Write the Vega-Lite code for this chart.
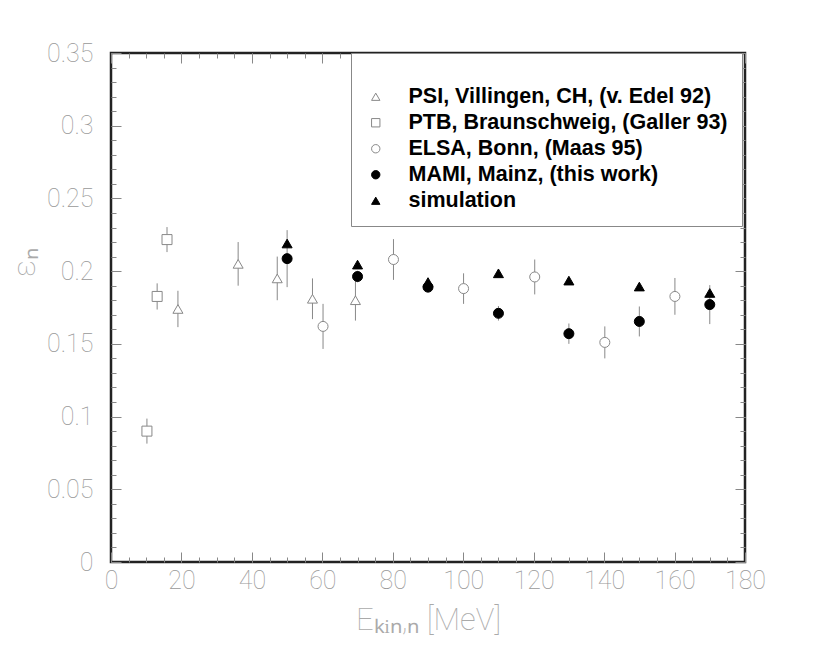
{
  "$schema": "https://vega.github.io/schema/vega-lite/v6.json",
  "width": 634,
  "height": 509,
  "autosize": "none",
  "padding": {"left": 111, "top": 53, "right": 85, "bottom": 87},
  "background": "white",
  "config": {
    "view": {"stroke": "#222", "strokeWidth": 2.5},
    "axis": {
      "grid": false,
      "domain": false,
      "tickColor": "#888",
      "tickWidth": 1,
      "labelFont": "Roboto",
      "labelFontWeight": 100,
      "labelFontSize": 25,
      "labelColor": "#999",
      "labelFlush": false,
      "labelOverlap": false,
      "titleFont": "Roboto",
      "titleFontWeight": 100,
      "titleFontSize": 31,
      "titleColor": "#aaa"
    }
  },
  "data": {
    "values": [
      {"E": 19.0, "eps": 0.174, "lo": 0.1615, "hi": 0.1865, "series": "PSI, Villingen, CH, (v. Edel 92)"},
      {"E": 36.1, "eps": 0.205, "lo": 0.190, "hi": 0.220, "series": "PSI, Villingen, CH, (v. Edel 92)"},
      {"E": 47.2, "eps": 0.195, "lo": 0.180, "hi": 0.210, "series": "PSI, Villingen, CH, (v. Edel 92)"},
      {"E": 57.2, "eps": 0.181, "lo": 0.167, "hi": 0.195, "series": "PSI, Villingen, CH, (v. Edel 92)"},
      {"E": 69.4, "eps": 0.180, "lo": 0.166, "hi": 0.194, "series": "PSI, Villingen, CH, (v. Edel 92)"},
      {"E": 10.2, "eps": 0.090, "lo": 0.0814, "hi": 0.0986, "series": "PTB, Braunschweig, (Galler 93)"},
      {"E": 13.1, "eps": 0.1826, "lo": 0.1736, "hi": 0.1916, "series": "PTB, Braunschweig, (Galler 93)"},
      {"E": 15.9, "eps": 0.2217, "lo": 0.2131, "hi": 0.2303, "series": "PTB, Braunschweig, (Galler 93)"},
      {"E": 60.2, "eps": 0.162, "lo": 0.1465, "hi": 0.1775, "series": "ELSA, Bonn, (Maas 95)"},
      {"E": 80.2, "eps": 0.208, "lo": 0.194, "hi": 0.222, "series": "ELSA, Bonn, (Maas 95)"},
      {"E": 100.1, "eps": 0.188, "lo": 0.1775, "hi": 0.1985, "series": "ELSA, Bonn, (Maas 95)"},
      {"E": 120.3, "eps": 0.196, "lo": 0.184, "hi": 0.208, "series": "ELSA, Bonn, (Maas 95)"},
      {"E": 140.2, "eps": 0.151, "lo": 0.140, "hi": 0.162, "series": "ELSA, Bonn, (Maas 95)"},
      {"E": 160.1, "eps": 0.1826, "lo": 0.170, "hi": 0.1953, "series": "ELSA, Bonn, (Maas 95)"},
      {"E": 50, "eps": 0.2086, "lo": 0.189, "hi": 0.2282, "series": "MAMI, Mainz, (this work)"},
      {"E": 70, "eps": 0.1963, "lo": 0.1923, "hi": 0.2003, "series": "MAMI, Mainz, (this work)"},
      {"E": 90, "eps": 0.189, "lo": 0.186, "hi": 0.192, "series": "MAMI, Mainz, (this work)"},
      {"E": 110, "eps": 0.171, "lo": 0.166, "hi": 0.176, "series": "MAMI, Mainz, (this work)"},
      {"E": 130, "eps": 0.157, "lo": 0.150, "hi": 0.164, "series": "MAMI, Mainz, (this work)"},
      {"E": 150, "eps": 0.1654, "lo": 0.1551, "hi": 0.1757, "series": "MAMI, Mainz, (this work)"},
      {"E": 170, "eps": 0.177, "lo": 0.1636, "hi": 0.1904, "series": "MAMI, Mainz, (this work)"},
      {"E": 50, "eps": 0.219, "series": "simulation"},
      {"E": 70, "eps": 0.2045, "series": "simulation"},
      {"E": 90, "eps": 0.1925, "series": "simulation"},
      {"E": 110, "eps": 0.1985, "series": "simulation"},
      {"E": 130, "eps": 0.1935, "series": "simulation"},
      {"E": 150, "eps": 0.1894, "series": "simulation"},
      {"E": 170, "eps": 0.185, "series": "simulation"}
    ]
  },
  "resolve": {"axis": {"x": "independent", "y": "independent"}},
  "layer": [
    {
      "mark": {"type": "rule", "color": "#888", "strokeWidth": 1},
      "encoding": {
        "x": {
          "field": "E", "type": "quantitative",
          "scale": {"domain": [0, 180], "nice": false, "zero": false},
          "axis": {
            "orient": "bottom",
            "values": [0, 20, 40, 60, 80, 100, 120, 140, 160, 180],
            "tickSize": -10,
            "labelPadding": 16,
            "title": "Eₖᵢₙ,ₙ [MeV]",
            "titlePadding": 12
          }
        },
        "y": {
          "field": "lo", "type": "quantitative",
          "scale": {"domain": [0, 0.35], "nice": false, "zero": false},
          "axis": {
            "orient": "left",
            "values": [0, 0.05, 0.1, 0.15, 0.2, 0.25, 0.3, 0.35],
            "format": "~g",
            "tickSize": -10,
            "labelPadding": 28,
            "title": "εₙ",
            "titleX": -70,
            "titleY": 209
          }
        },
        "y2": {"field": "hi"}
      }
    },
    {
      "mark": {"type": "point", "filled": true, "size": 100, "opacity": 1, "strokeWidth": 1},
      "encoding": {
        "x": {
          "field": "E", "type": "quantitative",
          "scale": {"domain": [0, 180], "nice": false, "zero": false},
          "axis": {
            "orient": "bottom",
            "values": [0, 5, 10, 15, 20, 25, 30, 35, 40, 45, 50, 55, 60, 65, 70, 75, 80, 85, 90, 95, 100, 105, 110, 115, 120, 125, 130, 135, 140, 145, 150, 155, 160, 165, 170, 175, 180],
            "tickSize": -5,
            "labels": false,
            "title": null
          }
        },
        "y": {
          "field": "eps", "type": "quantitative",
          "scale": {"domain": [0, 0.35], "nice": false, "zero": false},
          "axis": {
            "orient": "left",
            "values": [0, 0.01, 0.02, 0.03, 0.04, 0.05, 0.06, 0.07, 0.08, 0.09, 0.1, 0.11, 0.12, 0.13, 0.14, 0.15, 0.16, 0.17, 0.18, 0.19, 0.2, 0.21, 0.22, 0.23, 0.24, 0.25, 0.26, 0.27, 0.28, 0.29, 0.3, 0.31, 0.32, 0.33, 0.34, 0.35],
            "tickSize": -5,
            "labels": false,
            "title": null
          }
        },
        "shape": {
          "field": "series", "type": "nominal",
          "scale": {
            "domain": ["PSI, Villingen, CH, (v. Edel 92)", "PTB, Braunschweig, (Galler 93)", "ELSA, Bonn, (Maas 95)", "MAMI, Mainz, (this work)", "simulation"],
            "range": ["triangle-up", "square", "circle", "circle", "triangle-up"]
          },
          "legend": {
            "orient": "none",
            "legendX": 240,
            "legendY": 0,
            "title": " ",
            "titleFontSize": 10,
            "titlePadding": 9,
            "padding": 14,
            "strokeColor": "#888",
            "fillColor": "white",
            "labelFont": "Liberation Sans",
            "labelFontWeight": "bold",
            "labelFontSize": 21.5,
            "labelColor": "black",
            "labelLimit": 400,
            "symbolSize": 70,
            "symbolStrokeWidth": 1,
            "labelOffset": 22,
            "rowPadding": 3
          }
        },
        "fill": {
          "field": "series", "type": "nominal",
          "scale": {
            "domain": ["PSI, Villingen, CH, (v. Edel 92)", "PTB, Braunschweig, (Galler 93)", "ELSA, Bonn, (Maas 95)", "MAMI, Mainz, (this work)", "simulation"],
            "range": ["white", "white", "white", "black", "black"]
          }
        },
        "stroke": {
          "field": "series", "type": "nominal",
          "scale": {
            "domain": ["PSI, Villingen, CH, (v. Edel 92)", "PTB, Braunschweig, (Galler 93)", "ELSA, Bonn, (Maas 95)", "MAMI, Mainz, (this work)", "simulation"],
            "range": ["#888", "#888", "#888", "black", "black"]
          }
        }
      }
    },
    {
      "mark": {"type": "point", "opacity": 0},
      "encoding": {
        "x": {
          "field": "E", "type": "quantitative",
          "scale": {"domain": [0, 180], "nice": false, "zero": false},
          "axis": {
            "orient": "top",
            "values": [0, 20, 40, 60, 80, 100, 120, 140, 160, 180],
            "tickSize": -10,
            "labels": false,
            "title": null
          }
        },
        "y": {
          "field": "eps", "type": "quantitative",
          "scale": {"domain": [0, 0.35], "nice": false, "zero": false},
          "axis": {
            "orient": "right",
            "values": [0, 0.05, 0.1, 0.15, 0.2, 0.25, 0.3, 0.35],
            "tickSize": -10,
            "labels": false,
            "title": null
          }
        }
      }
    },
    {
      "mark": {"type": "point", "opacity": 0},
      "encoding": {
        "x": {
          "field": "E", "type": "quantitative",
          "scale": {"domain": [0, 180], "nice": false, "zero": false},
          "axis": {
            "orient": "top",
            "values": [0, 5, 10, 15, 20, 25, 30, 35, 40, 45, 50, 55, 60, 65, 70, 75, 80, 85, 90, 95, 100, 105, 110, 115, 120, 125, 130, 135, 140, 145, 150, 155, 160, 165, 170, 175, 180],
            "tickSize": -5,
            "labels": false,
            "title": null
          }
        },
        "y": {
          "field": "eps", "type": "quantitative",
          "scale": {"domain": [0, 0.35], "nice": false, "zero": false},
          "axis": {
            "orient": "right",
            "values": [0, 0.01, 0.02, 0.03, 0.04, 0.05, 0.06, 0.07, 0.08, 0.09, 0.1, 0.11, 0.12, 0.13, 0.14, 0.15, 0.16, 0.17, 0.18, 0.19, 0.2, 0.21, 0.22, 0.23, 0.24, 0.25, 0.26, 0.27, 0.28, 0.29, 0.3, 0.31, 0.32, 0.33, 0.34, 0.35],
            "tickSize": -5,
            "labels": false,
            "title": null
          }
        }
      }
    }
  ]
}
